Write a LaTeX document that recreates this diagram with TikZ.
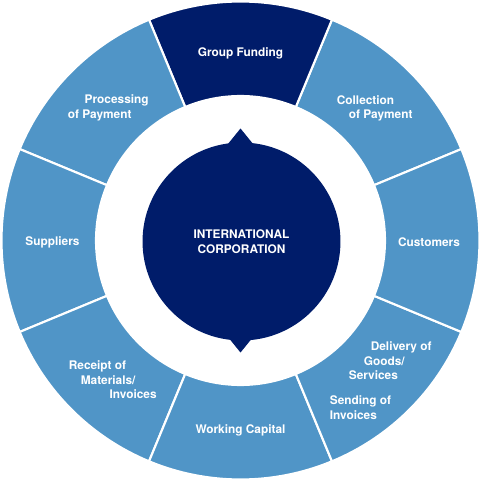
\documentclass[tikz,border=0pt]{standalone}
\usepackage{fontspec}
\setmainfont{TeX Gyre Heros}
\usepackage{tikz}

\definecolor{ringblue}{RGB}{80,149,199}
\definecolor{corpnavy}{RGB}{0,28,106}
\newcommand{\lblfont}{\fontsize{6.75}{8.2}\selectfont\bfseries}

\begin{document}
\begin{tikzpicture}[scale=0.02,
	seg/.style={fill=ringblue, draw=white, line width=1.2pt, line join=miter},
	lbl/.style={text=white, font=\lblfont, inner sep=0pt, align=left}]
	\useasboundingbox (-240.5,-240.5) rectangle (240.5,240.5);
	%\draw[help lines] (-240,-240) grid[step=20] (240,240);
	% ring
	\filldraw[seg] (22.5:144.5) arc (22.5:67.5:144.5) -- (67.5:239) arc (67.5:22.5:239) -- cycle;
	\filldraw[seg, fill=corpnavy] (67.5:144.5) arc (67.5:112.5:144.5) -- (112.5:239) arc (112.5:67.5:239) -- cycle;
	\filldraw[seg] (112.5:144.5) arc (112.5:157.5:144.5) -- (157.5:239) arc (157.5:112.5:239) -- cycle;
	\filldraw[seg] (157.5:144.5) arc (157.5:202.5:144.5) -- (202.5:239) arc (202.5:157.5:239) -- cycle;
	\filldraw[seg] (202.5:144.5) arc (202.5:247.5:144.5) -- (247.5:239) arc (247.5:202.5:239) -- cycle;
	\filldraw[seg] (247.5:144.5) arc (247.5:292.5:144.5) -- (292.5:239) arc (292.5:247.5:239) -- cycle;
	\filldraw[seg] (292.5:144.5) arc (292.5:337.5:144.5) -- (337.5:239) arc (337.5:292.5:239) -- cycle;
	\filldraw[seg] (337.5:144.5) arc (337.5:382.5:144.5) -- (382.5:239) arc (382.5:337.5:239) -- cycle;
	% centre
	\fill[corpnavy] (-13,96) -- (0,112) -- (13,96) -- cycle;
	\fill[corpnavy] (-13,-96) -- (0,-112) -- (13,-96) -- cycle;
	\node[circle, fill=corpnavy, minimum size=3.96cm, inner sep=0pt, lbl, align=center] (corp) at (1,-1) {INTERNATIONAL\\CORPORATION};
	% labels
	\node[lbl] (funding) at (0,187.5) {Group Funding};
	\node[lbl, anchor=west] (collection) at (96,132) {Collection\\\hspace*{6.8pt}of Payment};
	\node[lbl] (customers) at (188.5,-1.5) {Customers};
	\node[lbl, anchor=west] (delivery) at (108,-120.5) {\hspace*{12.5pt}Delivery of\\\hspace*{8.5pt}Goods/\\Services};
	\node[lbl, anchor=west] (sending) at (89,-167) {Sending of\\Invoices};
	\node[lbl] (capital) at (0,-189.5) {Working Capital};
	\node[lbl, anchor=west] (receipt) at (-172,-139.5) {Receipt of\\\hspace*{6.8pt}Materials/\\\hspace*{23.2pt}Invoices};
	\node[lbl] (suppliers) at (-188,-1.5) {Suppliers};
	\node[lbl, anchor=west] (processing) at (-173,132.5) {\hspace*{9.6pt}Processing\\of Payment};
\end{tikzpicture}
\end{document}
